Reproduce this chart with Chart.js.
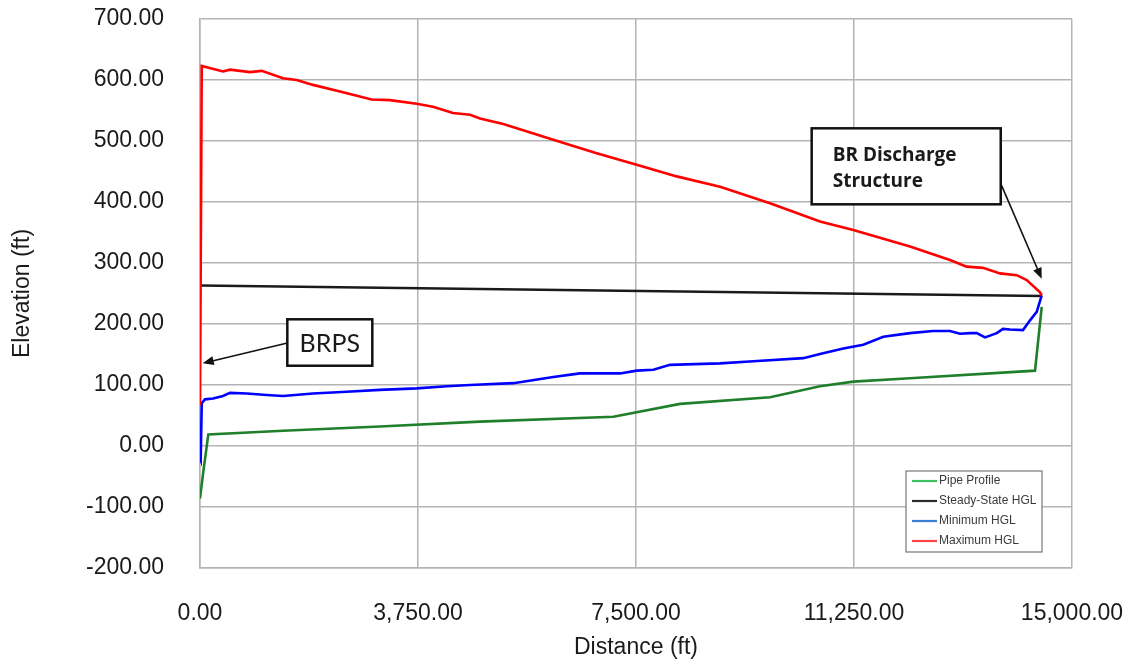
<!DOCTYPE html>
<html>
<head>
<meta charset="utf-8">
<title>HGL Profile</title>
<script src="https://cdn.jsdelivr.net/npm/chart.js@4.4.1/dist/chart.umd.min.js"></script>
<style>
  html, body { margin: 0; padding: 0; background: #ffffff; }
  #wrap { width: 1130px; height: 664px; position: relative; }
</style>
</head>
<body>
<div id="wrap"><canvas id="hglChart"></canvas></div>
<script>
// Datos (distancia en ft, elevación en ft)
const pipeDist = [0, 12, 60, 143, 1428, 3096, 4817, 7110, 8257, 9805, 10665, 11238, 12213, 14364, 14479];
const pipeElev = [-86, -86, -40, 19, 25, 32, 40, 48, 69, 80, 98, 105.5, 111, 123.5, 228];

const steadyDist = [0, 14479];
const steadyElev = [263, 246];

const minDist = [0, 12, 30, 86, 224, 396, 516, 803, 1147, 1428, 1944, 2523, 3096, 3727, 4244, 4645, 5389, 6077, 6537, 7225, 7512, 7798, 8085, 8945, 9518, 10378, 10665, 11066, 11410, 11754, 12213, 12609, 12901, 13074, 13245, 13361, 13504, 13705, 13813, 13934, 14157, 14278, 14393, 14479];
const minHgl = [-20, -23, 70, 76.5, 78, 82, 87, 86, 83.6, 82, 86, 89, 92, 94.5, 98, 100, 103, 113, 119, 119, 123.5, 125, 133, 135.5, 139, 144, 151, 160, 166, 179, 185, 188.5, 188.5, 184, 185, 185, 178, 185, 192, 191, 190, 206, 220, 247];

const maxDist = [0, 30, 396, 516, 860, 1061, 1428, 1663, 1944, 2408, 2953, 3268, 3727, 4008, 4352, 4645, 4817, 5217, 6077, 6824, 7512, 8200, 8945, 9805, 10665, 11238, 12213, 12901, 13188, 13469, 13762, 14049, 14221, 14450, 14479];
const maxHgl = [67, 623, 614, 617, 613, 615, 603, 600, 592, 581, 568, 567, 561, 556, 546, 543, 537, 528, 502, 480, 461, 442, 425, 398, 368, 354, 327, 305, 294, 292, 283, 280, 272, 252, 247];

const seriesLabels = ['Pipe Profile', 'Steady-State HGL', 'Minimum HGL', 'Maximum HGL'];
const seriesColors = ['#1f7f2a', '#1a1a1a', '#0000ff', '#ff0000'];
const legendColors = ['#3cc060', '#2a2a2a', '#3b7fd6', '#ff4646'];

// Ejes
const xMin = 0, xMax = 15000, xStep = 3750;
const yMin = -200, yMax = 700, yStep = 100;

// Anotaciones (coordenadas en unidades de datos)
const notes = [
    { lines: ['BRPS'], box: [1502, 2964, 207.7, 131.6], from: [1502, 169], to: [46, 135.6],
      font: '25px Lato', align: 'center' },
    { lines: ['BR Discharge', 'Structure'], box: [10522, 13774, 520.8, 396.2], from: [13762, 433], to: [14479, 274],
      font: 'bold 19px "Open Sans"', align: 'left' }
];

function toPoints(xs, ys) {
    return xs.map((x, i) => ({ x: x, y: ys[i] }));
}

const fmt = new Intl.NumberFormat('en-US', { minimumFractionDigits: 2, maximumFractionDigits: 2 });

function drawArrow(ctx, x1, y1, x2, y2) {
    const ang = Math.atan2(y2 - y1, x2 - x1);
    const len = 11, half = 4.5;
    ctx.beginPath();
    ctx.moveTo(x1, y1);
    ctx.lineTo(x2 - Math.cos(ang) * len * 0.8, y2 - Math.sin(ang) * len * 0.8);
    ctx.stroke();
    ctx.beginPath();
    ctx.moveTo(x2, y2);
    ctx.lineTo(x2 - Math.cos(ang) * len - Math.sin(ang) * half, y2 - Math.sin(ang) * len + Math.cos(ang) * half);
    ctx.lineTo(x2 - Math.cos(ang) * len + Math.sin(ang) * half, y2 - Math.sin(ang) * len - Math.cos(ang) * half);
    ctx.closePath();
    ctx.fill();
}

// Plugin: cuadros de texto con flecha + leyenda dentro del área
const overlayPlugin = {
    id: 'overlay',
    afterDatasetsDraw(chart) {
        const ctx = chart.ctx;
        const xs = chart.scales.x, ys = chart.scales.y;
        ctx.save();

        notes.forEach(n => {
            const l = xs.getPixelForValue(n.box[0]), r = xs.getPixelForValue(n.box[1]);
            const t = ys.getPixelForValue(n.box[2]), b = ys.getPixelForValue(n.box[3]);
            ctx.strokeStyle = '#111111';
            ctx.fillStyle = '#111111';
            ctx.lineWidth = 1.6;
            drawArrow(ctx, xs.getPixelForValue(n.from[0]), ys.getPixelForValue(n.from[1]),
                      xs.getPixelForValue(n.to[0]), ys.getPixelForValue(n.to[1]));
            ctx.fillStyle = '#ffffff';
            ctx.fillRect(l, t, r - l, b - t);
            ctx.lineWidth = 2.5;
            ctx.strokeStyle = '#111111';
            ctx.strokeRect(l, t, r - l, b - t);
            ctx.fillStyle = '#1a1a1a';
            ctx.font = n.font;
            if (n.align === 'center') {
                ctx.textAlign = 'center';
                ctx.textBaseline = 'middle';
                ctx.fillText(n.lines[0], (l + r) / 2, (t + b) / 2 + 1);
            } else {
                ctx.textAlign = 'left';
                ctx.textBaseline = 'alphabetic';
                n.lines.forEach((txt, i) => ctx.fillText(txt, l + 21, t + 33 + i * 26));
            }
        });

        // Leyenda
        const area = chart.chartArea;
        const w = 136, h = 81;
        const lx = area.right - 30 - w, ly = area.bottom - 16 - h;
        ctx.fillStyle = '#ffffff';
        ctx.fillRect(lx, ly, w, h);
        ctx.strokeStyle = '#777777';
        ctx.lineWidth = 1.2;
        ctx.strokeRect(lx, ly, w, h);
        ctx.font = '12px "Liberation Sans"';
        ctx.textAlign = 'left';
        ctx.textBaseline = 'middle';
        seriesLabels.forEach((lab, i) => {
            const yy = ly + 10 + i * 20;
            ctx.strokeStyle = legendColors[i];
            ctx.lineWidth = 2.2;
            ctx.beginPath();
            ctx.moveTo(lx + 6, yy);
            ctx.lineTo(lx + 31, yy);
            ctx.stroke();
            ctx.fillStyle = '#3a3a3a';
            ctx.fillText(lab, lx + 33, yy);
        });
        ctx.restore();
    }
};

const ctxChart = document.getElementById('hglChart').getContext('2d');
new Chart(ctxChart, {
    type: 'line',
    data: {
        datasets: [
            { label: seriesLabels[0], data: toPoints(pipeDist, pipeElev), borderColor: seriesColors[0], order: 3 },
            { label: seriesLabels[1], data: toPoints(steadyDist, steadyElev), borderColor: seriesColors[1], order: 4 },
            { label: seriesLabels[2], data: toPoints(minDist, minHgl), borderColor: seriesColors[2], order: 2 },
            { label: seriesLabels[3], data: toPoints(maxDist, maxHgl), borderColor: seriesColors[3], order: 1 }
        ]
    },
    options: {
        responsive: true,
        maintainAspectRatio: false,
        animation: false,
        elements: {
            line: { borderWidth: 2.6, tension: 0, fill: false },
            point: { radius: 0, hoverRadius: 0 }
        },
        layout: { padding: { left: 0, right: 58, top: 19, bottom: 0 } },
        plugins: {
            legend: { display: false },
            tooltip: { enabled: false }
        },
        scales: {
            x: {
                type: 'linear',
                min: xMin,
                max: xMax,
                afterFit: s => { s.height = 96; },
                afterBuildTicks: s => {
                    s.ticks = [];
                    for (let v = xMin; v <= xMax; v += xStep) s.ticks.push({ value: v });
                },
                grid: { color: '#b4b4b4', lineWidth: 1.5, drawTicks: true, tickLength: 32, tickColor: 'rgba(0,0,0,0)' },
                border: { color: '#b4b4b4', width: 1.5 },
                ticks: {
                    padding: 0,
                    maxRotation: 0,
                    color: '#1a1a1a',
                    font: { family: '"Liberation Sans"', size: 23 },
                    callback: v => fmt.format(v)
                },
                title: {
                    display: true,
                    text: 'Distance (ft)',
                    color: '#1a1a1a',
                    font: { family: '"Liberation Sans"', size: 23 },
                    padding: { top: 0, bottom: 3 }
                }
            },
            y: {
                min: yMin,
                max: yMax,
                afterFit: s => { s.width = 200; },
                grid: { color: '#b4b4b4', lineWidth: 1.5, drawTicks: true, tickLength: 36, tickColor: 'rgba(0,0,0,0)' },
                border: { color: '#b4b4b4', width: 1.5 },
                ticks: {
                    stepSize: yStep,
                    padding: 0,
                    color: '#1a1a1a',
                    font: { family: '"Liberation Sans"', size: 23 },
                    callback: v => fmt.format(v)
                },
                title: {
                    display: true,
                    text: 'Elevation (ft)',
                    color: '#1a1a1a',
                    font: { family: '"Liberation Sans"', size: 23 },
                    padding: { top: 9, bottom: 0 }
                }
            }
        }
    },
    plugins: [overlayPlugin]
});
</script>
</body>
</html>
